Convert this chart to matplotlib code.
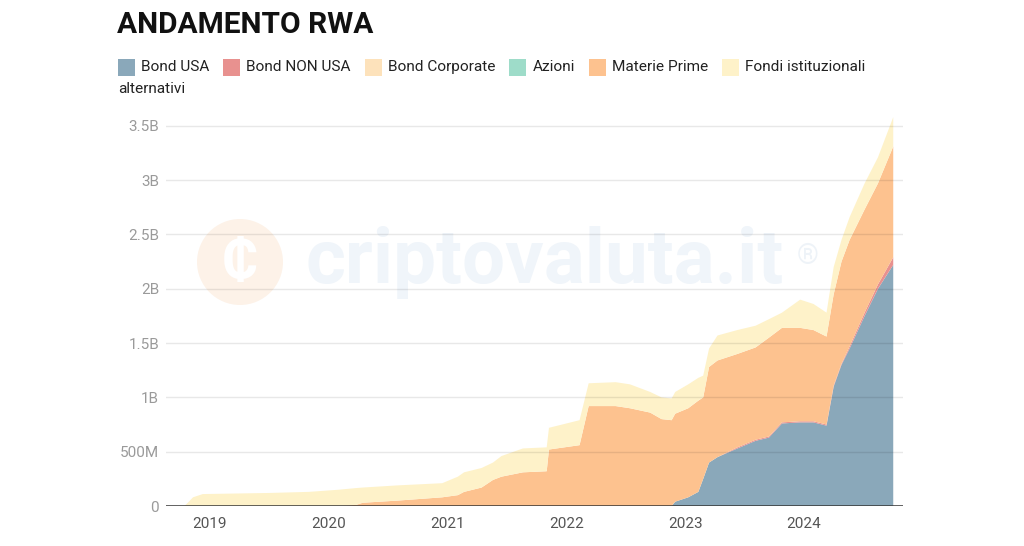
import matplotlib
matplotlib.use("Agg")
import matplotlib.pyplot as plt
import pandas as pd
from matplotlib.patches import Rectangle, Ellipse

plt.rcParams['font.family'] = ['Roboto', 'DejaVu Sans']

# ---------------- data (values in billions USD) ----------------
dates = ["2018-10-15", "2018-10-25", "2018-11-10", "2018-12-10", "2019-07-01",
         "2019-11-01", "2020-02-01", "2020-03-25", "2020-04-15", "2020-08-01",
         "2020-12-15", "2021-02-01", "2021-02-20", "2021-04-15", "2021-05-20",
         "2021-06-15", "2021-08-20", "2021-11-01", "2021-11-08", "2022-02-10",
         "2022-03-10", "2022-06-01", "2022-07-15", "2022-09-15", "2022-10-20",
         "2022-11-20", "2022-12-01", "2023-01-10", "2023-02-10", "2023-02-25",
         "2023-03-15", "2023-04-10", "2023-06-10", "2023-08-05", "2023-09-15",
         "2023-10-25", "2023-12-20", "2024-01-30", "2024-03-10", "2024-04-01",
         "2024-04-25", "2024-05-20", "2024-07-05", "2024-08-15", "2024-10-01"]

bond_usa = [0, 0, 0, 0, 0,
            0, 0, 0, 0, 0,
            0, 0, 0, 0, 0,
            0, 0, 0, 0, 0,
            0, 0, 0, 0, 0,
            0, 0.04, 0.08, 0.13, 0.25,
            0.40, 0.45, 0.53, 0.60, 0.63,
            0.76, 0.77, 0.77, 0.74, 1.10,
            1.30, 1.45, 1.75, 2.00, 2.22]

bond_non_usa = [0, 0, 0, 0, 0,
                0, 0, 0, 0, 0,
                0, 0, 0, 0, 0,
                0, 0, 0, 0, 0,
                0, 0, 0, 0, 0,
                0, 0, 0, 0, 0,
                0, 0, 0.01, 0.01, 0.01,
                0.01, 0.01, 0.01, 0.01, 0.01,
                0.01, 0.02, 0.03, 0.04, 0.07]

bond_corporate = [0] * 45
azioni = [0] * 45

materie_prime = [0, 0, 0, 0, 0,
                 0, 0, 0.01, 0.03, 0.05,
                 0.08, 0.10, 0.13, 0.17, 0.24,
                 0.27, 0.31, 0.32, 0.52, 0.56,
                 0.92, 0.92, 0.90, 0.86, 0.80,
                 0.79, 0.81, 0.82, 0.84, 0.75,
                 0.88, 0.89, 0.86, 0.85, 0.91,
                 0.87, 0.86, 0.84, 0.81, 0.84,
                 0.94, 0.98, 0.95, 0.93, 1.02]

fondi_istituzionali = [0, 0.03, 0.08, 0.11, 0.12,
                       0.13, 0.15, 0.155, 0.14, 0.14,
                       0.13, 0.17, 0.18, 0.18, 0.16,
                       0.19, 0.22, 0.22, 0.20, 0.23,
                       0.21, 0.22, 0.22, 0.19, 0.20,
                       0.20, 0.20, 0.22, 0.21, 0.20,
                       0.17, 0.23, 0.22, 0.20, 0.17,
                       0.14, 0.26, 0.24, 0.22, 0.25,
                       0.20, 0.21, 0.24, 0.24, 0.27]

series_names = ["Bond USA", "Bond NON USA", "Bond Corporate", "Azioni",
                "Materie Prime", "Fondi istituzionali"]
series_colors = ["#8aa8ba", "#e8918f", "#fde2bb", "#9edcc9", "#fdc28f", "#fef2c9"]
y_ticks = [0, 0.5, 1, 1.5, 2, 2.5, 3, 3.5]
y_labels = ["0", "500M", "1B", "1.5B", "2B", "2.5B", "3B", "3.5B"]
x_tick_years = [2019, 2020, 2021, 2022, 2023, 2024]

# ---------------- figure ----------------
W, H = 1024, 546
fig = plt.figure(figsize=(W / 100, H / 100), dpi=100)
fig.patch.set_facecolor("white")


def fx(px):
    return px / W


def fy(py):
    return 1 - py / H


ax = fig.add_axes([fx(166), fy(506), (903 - 166) / W, (506 - 115) / H])
ax.patch.set_alpha(0)

# watermark (behind data)
fig.patches.append(Ellipse((fx(240), fy(262)), 86 / W, 86 / H, transform=fig.transFigure,
                           facecolor="#fdf2e8", edgecolor="none", zorder=-5))
fig.text(fx(240), fy(264), "₵", fontsize=40, color="white", ha="center", va="center",
         weight="bold", zorder=-4)
fig.text(fx(545), fy(262), "criptovaluta.it", fontsize=55, color="#f0f5fa",
         ha="center", va="center", weight="bold", zorder=-4)
fig.text(fx(808), fy(256), "®", fontsize=20, color="#eef3f8",
         ha="center", va="center", zorder=-4)

x = pd.to_datetime(dates)
ax.stackplot(x, bond_usa, bond_non_usa, bond_corporate, azioni, materie_prime,
             fondi_istituzionali, colors=series_colors, linewidth=0, zorder=2)

ax.set_xlim(pd.Timestamp("2018-08-19"), pd.Timestamp("2024-10-31"))
ax.set_ylim(0, 3.6)
ax.set_yticks(y_ticks)
ax.set_yticklabels(y_labels)
ax.set_xticks([pd.Timestamp(f"{y}-01-01") for y in x_tick_years])
ax.set_xticklabels([str(y) for y in x_tick_years])

for yv in y_ticks[1:]:
    ax.axhline(yv, color="black", alpha=0.09, linewidth=1, zorder=3)
ax.axhline(0, color="#333333", linewidth=1.8, zorder=4)

for s in ax.spines.values():
    s.set_visible(False)
ax.tick_params(axis="y", length=0, pad=5, labelsize=11, labelcolor="#9a9a9a")
ax.tick_params(axis="x", length=0, pad=8, labelsize=11, labelcolor="#555555")

# title
fig.text(fx(117), fy(25), "ANDAMENTO RWA", fontsize=21.5, weight="bold",
         color="#111111", ha="left", va="center")

# legend (manual)
renderer = fig.canvas.get_renderer()
cur = 118
ly = 67
sq = 17
for name, col in zip(series_names, series_colors):
    fig.patches.append(Rectangle((fx(cur), fy(ly + sq / 2)), sq / W, sq / H,
                                 transform=fig.transFigure, facecolor=col,
                                 edgecolor="none"))
    t = fig.text(fx(cur + sq + 6), fy(ly), name, fontsize=11.1, color="#222222",
                 ha="left", va="center")
    bb = t.get_window_extent(renderer)
    cur = cur + sq + 6 + bb.width + 14
fig.text(fx(118), fy(89), "alternativi", fontsize=11.1, color="#222222",
         ha="left", va="center")

fig.savefig("out.png", dpi=100)
